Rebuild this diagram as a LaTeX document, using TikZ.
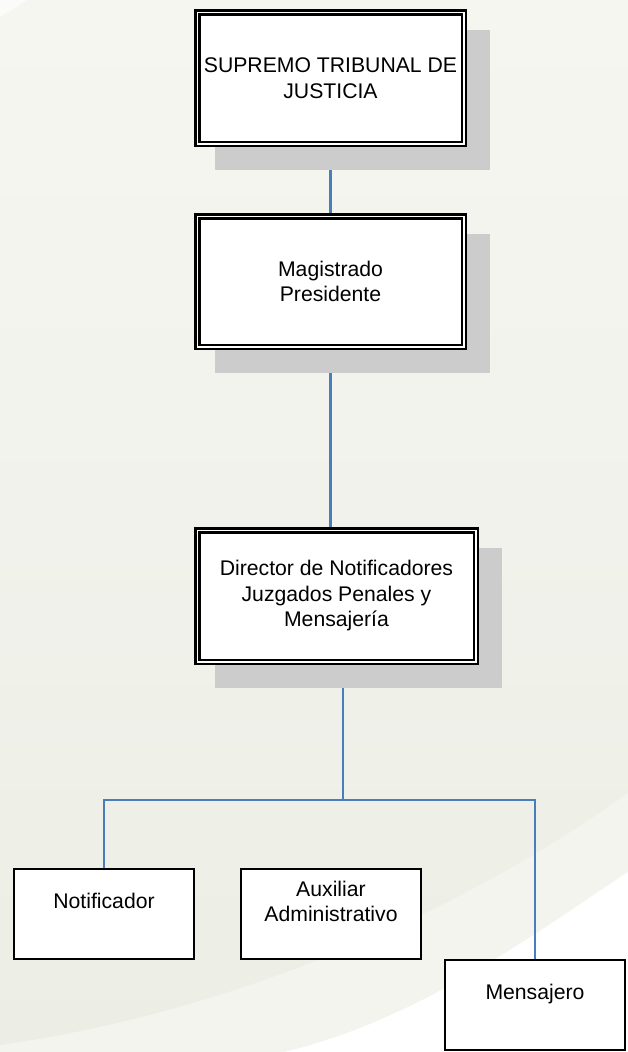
\documentclass[tikz,border=0pt]{standalone}
\usepackage{fontspec}
\setmainfont{Liberation Sans}
\usetikzlibrary{positioning,backgrounds}
\definecolor{linkblue}{RGB}{74,126,187}
\definecolor{shadowgray}{RGB}{204,204,204}
\definecolor{bgtop}{RGB}{246,246,241}
\definecolor{bgbottom}{RGB}{236,238,229}
\definecolor{bgband}{RGB}{243,244,237}

\begin{document}
\begin{tikzpicture}[x=1pt,y=-1pt,
every node/.style={align=center, inner sep=0pt,
    font=\fontsize{21.2}{25.5}\selectfont},
topbox/.style={draw=black, double=white, line width=2.4pt,
    double distance=1.6pt, fill=white,
    minimum width=266.4pt, minimum height=131.4pt},
lowbox/.style={draw=black, line width=2pt, fill=white,
    minimum width=180pt, minimum height=90pt},
link/.style={draw=linkblue, line width=2.2pt},
shadowfill/.style={fill=shadowgray}]
\useasboundingbox (0,0) rectangle (628,1052);

\node[topbox] (sup) at (330.5,78) {SUPREMO TRIBUNAL DE\\JUSTICIA};
\node[topbox, minimum height=130.4pt] (mag) at (330.5,281.5) {Magistrado\\Presidente};
\node[topbox, minimum width=278.4pt] (dir) at (336.5,596)
    {Director de Notificadores\\Juzgados Penales y\\Mensajería};

\node[lowbox] (notif) at (104,914) {Notificador\\\mbox{}};
\node[lowbox] (aux) at (331,914) {Auxiliar\\Administrativo\\\mbox{}};
\node[lowbox] (mens) at (535,1005) {Mensajero\\\mbox{}};

\coordinate (split) at (343,800);

\begin{scope}[on background layer]
  % backdrop
  \shade[top color=bgtop, bottom color=bgbottom] (0,0) rectangle (628,1052);
  \fill[bgband] (0,1045) .. controls (250,1010) and (480,900) .. (628,793)
      -- (628,1052) -- (0,1052) -- cycle;
  \fill[white] (284,1052) .. controls (420,1020) and (540,930) .. (628,872)
      -- (628,1052) -- cycle;
  \fill[white!60!bgtop] (0,0) -- (27,0) -- (0,17) -- cycle;
  % connectors
  \draw[link] (sup) -- (mag);
  \draw[link] (mag) -- (mag |- dir.north);
  \draw[link] (dir.south -| split) -- (split);
  \draw[link] (notif.north) |- (split) -| (mens.north);
  % shadows
  \fill[shadowfill] ([shift={(18.7,18.7)}]sup.north west) rectangle ([shift={(25.3,25.3)}]sup.south east);
  \fill[shadowfill] ([shift={(18.7,18.7)}]mag.north west) rectangle ([shift={(25.3,25.3)}]mag.south east);
  \fill[shadowfill] ([shift={(18.7,18.7)}]dir.north west) rectangle ([shift={(25.3,25.3)}]dir.south east);
\end{scope}
\end{tikzpicture}
\end{document}
